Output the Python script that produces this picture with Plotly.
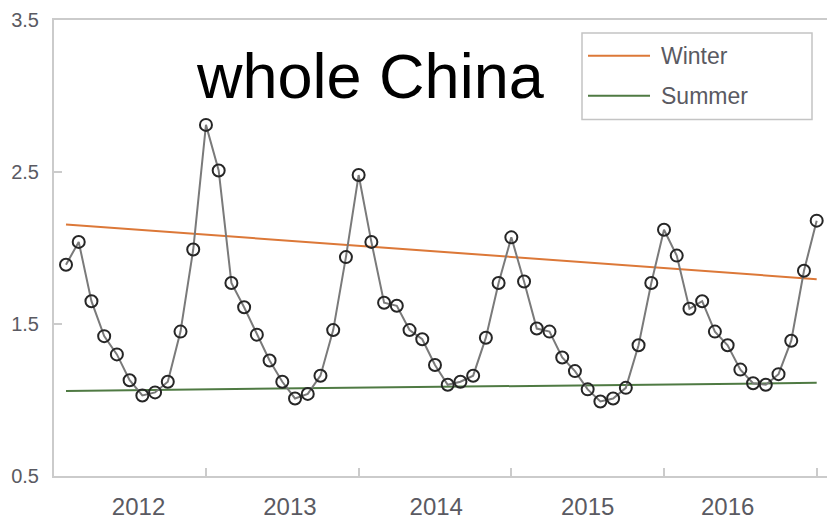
import plotly.graph_objects as go

# Monthly index values over five years (60 months)
months = list(range(1, 61))
values = [
    1.89, 2.04, 1.65, 1.42, 1.30, 1.13, 1.03, 1.05, 1.12, 1.45, 1.99, 2.81,
    2.51, 1.77, 1.61, 1.43, 1.26, 1.12, 1.01, 1.04, 1.16, 1.46, 1.94, 2.48,
    2.04, 1.64, 1.62, 1.46, 1.40, 1.23, 1.10, 1.12, 1.16, 1.41, 1.77, 2.07,
    1.78, 1.47, 1.45, 1.28, 1.19, 1.07, 0.99, 1.01, 1.08, 1.36, 1.77, 2.12,
    1.95, 1.60, 1.65, 1.45, 1.36, 1.20, 1.11, 1.10, 1.17, 1.39, 1.85, 2.18,
]

# Linear trend lines for the winter and summer seasons (start / end values)
trend_x = [1, 60]
winter_trend = [2.155, 1.795]
summer_trend = [1.060, 1.113]

# Axis ticks
year_boundaries = [12, 24, 36, 48, 60]
year_labels = ["2012", "2013", "2014", "2015", "2016"]
year_label_pos = [6.7, 18.6, 30.1, 42.0, 53.0]
y_ticks = [0.5, 1.5, 2.5, 3.5]

WINTER_COLOR = "#DC7838"
SUMMER_COLOR = "#4F7A43"
AXIS_COLOR = "#CBCBCB"
LABEL_COLOR = "#5A5A62"

W, H = 827, 520
ML, MR, MT, MB = 54, 0, 20, 42
PW, PH = W - ML - MR, H - MT - MB


def px_x(p):
    return (p - ML) / PW


def px_y(p):
    return (H - MB - p) / PH


fig = go.Figure()

fig.add_trace(go.Scatter(
    x=trend_x, y=winter_trend, mode="lines", name="Winter",
    line=dict(color=WINTER_COLOR, width=2),
))
fig.add_trace(go.Scatter(
    x=trend_x, y=summer_trend, mode="lines", name="Summer",
    line=dict(color=SUMMER_COLOR, width=2),
))
fig.add_trace(go.Scatter(
    x=months, y=values, mode="lines+markers", name="whole China",
    line=dict(color="#7A7A7A", width=2),
    marker=dict(symbol="circle-open", size=12, color="#262626",
                line=dict(width=2, color="#262626")),
))
# carrier for the year-label axis
fig.add_trace(go.Scatter(x=[None], y=[None], xaxis="x2", yaxis="y",
                         showlegend=False, hoverinfo="skip"))

x_range = [0.057, 60.81]

fig.update_layout(
    width=W, height=H,
    margin=dict(l=ML, r=MR, t=MT, b=MB),
    paper_bgcolor="white", plot_bgcolor="white",
    showlegend=False,
    xaxis=dict(
        range=x_range, tickmode="array", tickvals=year_boundaries,
        ticks="inside", ticklen=8, tickwidth=2, tickcolor=AXIS_COLOR,
        showticklabels=False, showline=True, linecolor=AXIS_COLOR,
        linewidth=2, mirror=True, showgrid=False, zeroline=False,
    ),
    xaxis2=dict(
        range=x_range, overlaying="x", anchor="y", side="bottom",
        tickmode="array", tickvals=year_label_pos, ticktext=year_labels,
        ticks="", showline=False, showgrid=False, zeroline=False,
        tickfont=dict(family="Liberation Sans Narrow, Liberation Sans, Arial",
                      size=24, color=LABEL_COLOR),
        ticklabelstandoff=14,
    ),
    yaxis=dict(
        range=[0.5, 3.5], tickmode="array", tickvals=y_ticks,
        ticktext=[f"{v:.1f}" for v in y_ticks],
        ticks="inside", ticklen=8, tickwidth=2, tickcolor=AXIS_COLOR,
        showline=True, linecolor=AXIS_COLOR, linewidth=2,
        showgrid=False, zeroline=False,
        tickfont=dict(family="Liberation Sans, Arial", size=20, color=LABEL_COLOR),
        ticklabelstandoff=9,
    ),
)

# Chart title inside the plot area
fig.add_annotation(
    text="whole China", xref="paper", yref="paper",
    x=px_x(370), y=px_y(76), xanchor="center", yanchor="middle",
    showarrow=False,
    font=dict(family="Liberation Sans, Arial", size=63, color="black"),
)

# Boxed legend in the upper right corner
fig.add_shape(type="rect", xref="paper", yref="paper",
              x0=px_x(582), x1=px_x(812), y0=px_y(120), y1=px_y(33),
              line=dict(color="#C4C4C4", width=1.5), fillcolor="white", layer="above")
for label, color, ypx in [("Winter", WINTER_COLOR, 56), ("Summer", SUMMER_COLOR, 96)]:
    fig.add_shape(type="line", xref="paper", yref="paper",
                  x0=px_x(588), x1=px_x(650), y0=px_y(ypx), y1=px_y(ypx),
                  line=dict(color=color, width=2), layer="above")
    fig.add_annotation(
        text=label, xref="paper", yref="paper",
        x=px_x(659), y=px_y(ypx), xanchor="left", yanchor="middle",
        showarrow=False,
        font=dict(family="Liberation Sans, Arial", size=23, color=LABEL_COLOR),
    )

fig.write_html("out.html")
